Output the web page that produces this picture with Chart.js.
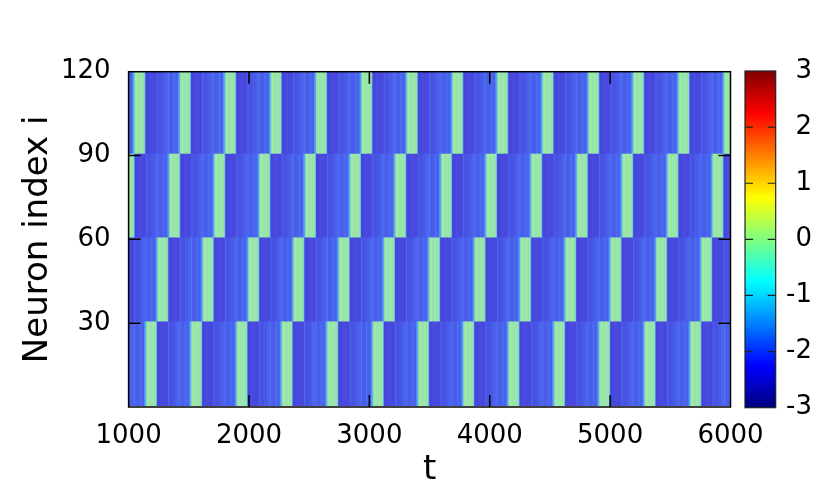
<!DOCTYPE html>
<html><head><meta charset="utf-8">
<script src="https://cdn.jsdelivr.net/npm/chart.js@4/dist/chart.umd.min.js"></script>
<style>
html,body{margin:0;padding:0;background:#fff;}
#wrap{position:relative;width:830px;height:498px;overflow:hidden;}
#main{position:absolute;left:0;top:0;}
#cbar{position:absolute;left:730px;top:0;}
</style></head><body>
<div id="wrap"><canvas id="main" width="830" height="498"></canvas><canvas id="cbar" width="100" height="498"></canvas></div>
<script>
// ---------- data ----------
const timeTicks = [1000, 2000, 3000, 4000, 5000, 6000];
const neuronTicks = [30, 60, 90, 120];
const clusterCenters = [15.5, 45.5, 75.5, 105.5];   // neurons 1-30, 31-60, 61-90, 91-120
// burst onset times of each cluster (t)
const onsetsC1 = [768, 1145, 1519, 1898, 2272, 2649, 3029, 3405, 3781, 4155, 4535, 4909, 5286, 5666];
const onsetsC2 = [862, 1239, 1616, 1995, 2369, 2746, 3122, 3496, 3873, 4253, 4627, 5003, 5383, 5757];
const onsetsC3 = [958, 1338, 1712, 2086, 2466, 2840, 3214, 3596, 3970, 4344, 4724, 5100, 5477, 5851];
const onsetsC4 = [670, 1047, 1427, 1801, 2181, 2557, 2934, 3311, 3690, 4062, 4438, 4820, 5191, 5568, 5946];
// value profile within one burst cycle (fraction of the cycle where a level starts, and the level)
const cycleFrac  = [0.000, 0.015, 0.040, 0.070, 0.140, 0.170, 0.235, 0.250, 0.330, 0.400, 0.500, 0.515, 0.620, 0.680, 0.750, 0.765, 0.860, 0.900, 0.965];
const cycleValue = [-0.6,  0.0,   0.35,  0.05,  0.2,   0.0,   -1.0,  -2.35, -2.25, -2.3,  -1.75, -2.15, -2.05, -1.9,  -1.6,  -2.0,  -1.8,  -1.95, -1.3];
const cbarTicks = [-3, -2, -1, 0, 1, 2, 3];

// ---------- styles ----------
const FONT = 'DejaVu Sans';
const heatStops = [
  [-2.5, [68, 64, 212]], [-2.3, [72, 72, 222]], [-2.1, [72, 86, 230]], [-1.9, [74, 100, 238]],
  [-1.6, [76, 124, 244]], [-1.2, [82, 160, 248]], [-0.6, [110, 205, 225]], [-0.2, [140, 225, 185]],
  [0.1, [152, 230, 172]], [0.4, [178, 233, 145]]
];
function heatColor(v) {
  if (v <= heatStops[0][0]) return `rgb(${heatStops[0][1].join(',')})`;
  for (let i = 1; i < heatStops.length; i++) {
    if (v <= heatStops[i][0]) {
      const [v0, c0] = heatStops[i - 1], [v1, c1] = heatStops[i];
      const f = (v - v0) / (v1 - v0);
      return `rgb(${c0.map((c, k) => Math.round(c + f * (c1[k] - c))).join(',')})`;
    }
  }
  return `rgb(${heatStops[heatStops.length - 1][1].join(',')})`;
}
const jetStops = [[0, '#000080'], [0.125, '#0000ff'], [0.375, '#00ffff'], [0.625, '#ffff00'], [0.875, '#ff0000'], [1, '#800000']];

// ---------- build segments ----------
function segments(onsets, center) {
  const out = [];
  onsets.forEach((on, i) => {
    const next = i + 1 < onsets.length ? onsets[i + 1] : on + (on - onsets[i - 1]);
    const dur = next - on;
    cycleFrac.forEach((f, j) => {
      const f1 = j + 1 < cycleFrac.length ? cycleFrac[j + 1] : 1;
      out.push({ x: [on + f * dur, on + f1 * dur], y: center, v: cycleValue[j] });
    });
  });
  return out;
}
const clusterOnsets = [onsetsC1, onsetsC2, onsetsC3, onsetsC4];
const datasets = clusterOnsets.map((ons, k) => ({
  label: 'cluster ' + (k + 1),
  data: segments(ons, clusterCenters[k]),
  backgroundColor: ctx => heatColor(ctx.raw ? ctx.raw.v : -2),
  borderWidth: 0,
  grouped: false,
  barPercentage: 1,
  categoryPercentage: 1
}));

const frame = {
  id: 'frame',
  afterDatasetsDraw(chart) {
    const { ctx, chartArea: a, scales: { x, y } } = chart;
    ctx.save();
    ctx.strokeStyle = '#000'; ctx.lineWidth = 1.5;
    ctx.strokeRect(a.left, a.top, a.right - a.left, a.bottom - a.top);
    ctx.beginPath();
    timeTicks.slice(1, -1).forEach(t => {
      const px = x.getPixelForValue(t);
      ctx.moveTo(px, a.bottom); ctx.lineTo(px, a.bottom - 12);
      ctx.moveTo(px, a.top); ctx.lineTo(px, a.top + 12);
    });
    neuronTicks.slice(0, -1).forEach(v => {
      const py = y.getPixelForValue(v);
      ctx.moveTo(a.left, py); ctx.lineTo(a.left + 12, py);
      ctx.moveTo(a.right, py); ctx.lineTo(a.right - 12, py);
    });
    ctx.stroke();
    ctx.restore();
  }
};

new Chart(document.getElementById('main'), {
  type: 'bar',
  data: { datasets },
  options: {
    indexAxis: 'y', responsive: false, animation: false, devicePixelRatio: 1,
    layout: { padding: { left: 0, top: 71.7, right: 99.5, bottom: 0 } },
    plugins: { legend: { display: false }, tooltip: { enabled: false } },
    scales: {
      x: {
        type: 'linear', min: timeTicks[0], max: timeTicks[timeTicks.length - 1],
        grid: { display: false, drawTicks: false }, border: { display: false },
        ticks: { stepSize: 1000, autoSkip: false, maxRotation: 0, color: '#000', padding: 14,
                 font: { family: FONT, size: 26 }, callback: v => String(v) },
        title: { display: true, text: 't', color: '#000', font: { family: FONT, size: 34, lineHeight: 1 },
                 padding: { top: 0, bottom: 11 } },
        afterFit(s) { s.height = 91; }
      },
      y: {
        type: 'linear', min: 0, max: 120, offset: false,
        grid: { display: false, drawTicks: false }, border: { display: false },
        ticks: { stepSize: 30, autoSkip: false, color: '#000', padding: 18,
                 font: { family: FONT, size: 26 }, callback: v => (neuronTicks.includes(v) ? String(v) : '') },
        title: { display: true, text: 'Neuron index i', color: '#000', font: { family: FONT, size: 34, lineHeight: 1 },
                 padding: { top: 21, bottom: 0 } },
        afterFit(s) { s.width = 128.6; }
      }
    }
  },
  plugins: [frame]
});

// ---------- colour bar ----------
function jetGradient(chart) {
  const a = chart.chartArea;
  if (!a) return '#0000ff';
  const y = chart.scales.y;
  const g = chart.ctx.createLinearGradient(0, y.getPixelForValue(cbarTicks[0]), 0, y.getPixelForValue(cbarTicks[cbarTicks.length - 1]));
  jetStops.forEach(([f, c]) => g.addColorStop(f, c));
  return g;
}
const cbFrame = {
  id: 'cbFrame',
  afterDatasetsDraw(chart) {
    const { ctx, chartArea: a, scales: { y } } = chart;
    ctx.save();
    ctx.strokeStyle = '#222'; ctx.lineWidth = 1.2;
    ctx.strokeRect(a.left, a.top, a.right - a.left, a.bottom - a.top);
    ctx.beginPath();
    cbarTicks.slice(1, -1).forEach(v => {
      const py = y.getPixelForValue(v);
      ctx.moveTo(a.left, py); ctx.lineTo(a.left + 8, py);
      ctx.moveTo(a.right, py); ctx.lineTo(a.right - 8, py);
    });
    ctx.stroke();
    ctx.restore();
  }
};
new Chart(document.getElementById('cbar'), {
  type: 'bar',
  data: { labels: ['z'], datasets: [{ data: [[cbarTicks[0], cbarTicks[cbarTicks.length - 1]]],
    backgroundColor: ctx => jetGradient(ctx.chart), borderWidth: 0, barPercentage: 1, categoryPercentage: 1 }] },
  options: {
    responsive: false, animation: false, devicePixelRatio: 1,
    layout: { padding: { left: 15, top: 71, right: 18, bottom: 90.3 } },
    plugins: { legend: { display: false }, tooltip: { enabled: false } },
    scales: {
      x: { display: false },
      y: { position: 'right', min: -3, max: 3,
           grid: { display: false, drawTicks: false }, border: { display: false },
           ticks: { stepSize: 1, crossAlign: 'far', padding: 0, color: '#000', font: { family: FONT, size: 26 },
                    callback: v => String(v) },
           afterFit(s) { s.width = 36.3; } }
    }
  },
  plugins: [cbFrame]
});
</script>
</body></html>
